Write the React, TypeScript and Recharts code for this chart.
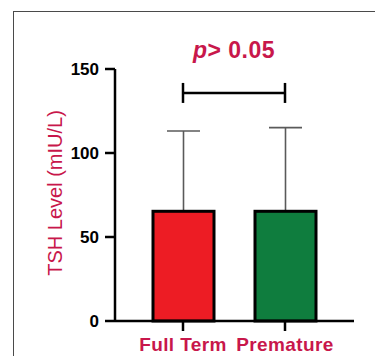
import React from 'react';
import { BarChart, Bar, XAxis, YAxis, ReferenceLine, Label, Cell } from 'recharts';

const categories = ['Full Term', 'Premature'];
const means = [65.3, 65.3];
const sds = [47.8, 49.8];
const colors = ['#ED1C24', '#0F7D3E'];
const yTicks = [0, 50, 100, 150];
const bracketY = 135.7;
const bracketCapLow = 129.8;
const bracketCapHigh = 141.7;
const pText = '> 0.05';
const yLabel = 'TSH Level (mIU/L)';

const data = categories.map((c, i) => ({ name: c, mean: means[i], sd: sds[i] }));

const RED = '#C8174B';
const FONT = '"Liberation Sans", Arial, sans-serif';

const BarShape = (props: any) => {
  const { x, y, width, height, fill, payload } = props;
  const cx = x + width / 2;
  const unit = height / payload.mean;
  const errTop = y - payload.sd * unit;
  return (
    <g>
      <line x1={cx} x2={cx} y1={y} y2={errTop} stroke="#5a5a5a" strokeWidth={1.6} />
      <line x1={cx - 16.5} x2={cx + 16.5} y1={errTop} y2={errTop} stroke="#5a5a5a" strokeWidth={1.6} />
      <rect x={x} y={y} width={width} height={height} fill={fill} stroke="#000" strokeWidth={3} />
    </g>
  );
};

const PLabel = (props: any) => {
  const vb = props.viewBox || {};
  const cx = (vb.x ?? 0) + (vb.width ?? 0) / 2;
  const y = (vb.y ?? 0) - 35;
  return (
    <text x={cx} y={y} textAnchor="middle" fill={RED} fontFamily={FONT} fontWeight="bold" fontSize={23} letterSpacing={0.5}>
      <tspan fontStyle="italic">p</tspan>
      {pText}
    </text>
  );
};

const YLabel = (props: any) => {
  const x = 62;
  const y = 193;
  return (
    <text x={x} y={y} transform={`rotate(-90, ${x}, ${y})`} textAnchor="middle" fill={RED} fontFamily={FONT} fontSize={20}>
      {yLabel}
    </text>
  );
};

export default function App() {
  return (
    <div style={{ position: 'relative', width: 383, height: 364, margin: -8, overflow: 'hidden', background: '#fff' }}>
      <div
        style={{
          position: 'absolute',
          left: 13,
          top: 11,
          width: 400,
          height: 400,
          borderTop: '1.5px solid #4a4a4a',
          borderLeft: '1.5px solid #4a4a4a',
        }}
      />
      <div style={{ position: 'absolute', left: 0, top: 0 }}>
        <BarChart width={383} height={364} data={data} margin={{ top: 69, right: 29, left: 0, bottom: 0 }}>
          <XAxis
            dataKey="name"
            height={43}
            padding={{ left: 17, right: 18 }}
            axisLine={{ stroke: '#000', strokeWidth: 2.5 }}
            tickLine={{ stroke: '#000', strokeWidth: 2.5 }}
            tickSize={10}
            tickMargin={7}
            tick={{ fill: RED, fontFamily: FONT, fontWeight: 'bold', fontSize: 19, letterSpacing: 0.4 }}
          />
          <YAxis
            width={115}
            domain={[0, 150]}
            ticks={yTicks}
            axisLine={{ stroke: '#000', strokeWidth: 2.5 }}
            tickLine={{ stroke: '#000', strokeWidth: 2.5 }}
            tickSize={10}
            tickMargin={6}
            tick={{ fill: '#000', fontFamily: FONT, fontWeight: 'bold', fontSize: 17 }}
          >
            <Label content={<YLabel />} />
          </YAxis>
          <Bar dataKey="mean" barSize={61} shape={<BarShape />} isAnimationActive={false}>
            {data.map((d, i) => (
              <Cell key={d.name} fill={colors[i]} />
            ))}
          </Bar>
          <ReferenceLine
            segment={[{ x: categories[0], y: bracketY }, { x: categories[1], y: bracketY }]}
            stroke="#000"
            strokeWidth={2.5}
            ifOverflow="visible"
          >
            <Label content={<PLabel />} />
          </ReferenceLine>
          <ReferenceLine
            segment={[{ x: categories[0], y: bracketCapLow }, { x: categories[0], y: bracketCapHigh }]}
            stroke="#000"
            strokeWidth={2.5}
            ifOverflow="visible"
          />
          <ReferenceLine
            segment={[{ x: categories[1], y: bracketCapLow }, { x: categories[1], y: bracketCapHigh }]}
            stroke="#000"
            strokeWidth={2.5}
            ifOverflow="visible"
          />
        </BarChart>
      </div>
    </div>
  );
}
